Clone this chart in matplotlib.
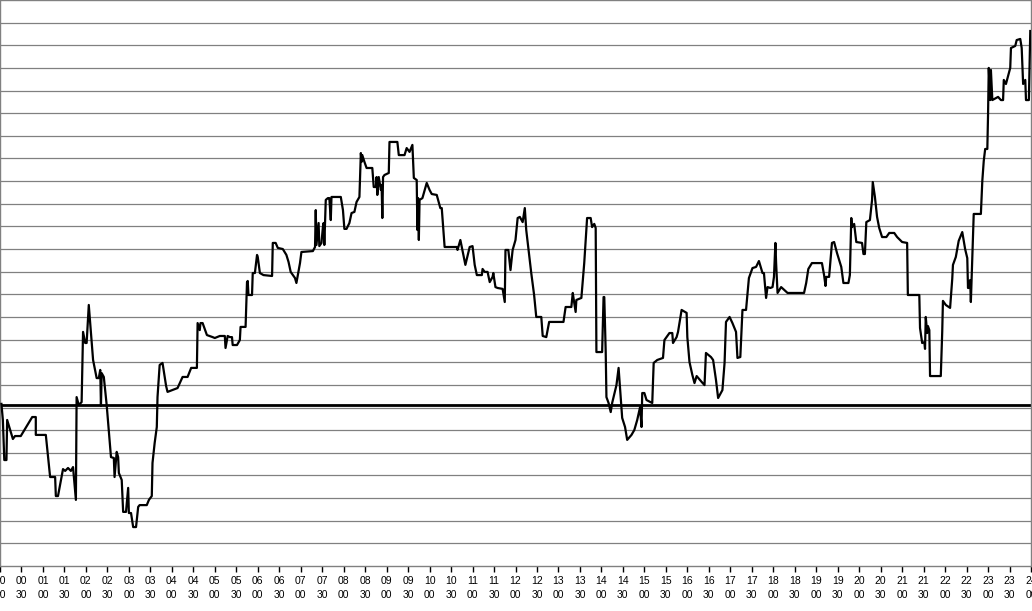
import matplotlib
matplotlib.use('Agg')
import matplotlib.pyplot as plt

# time of day in minutes, value in grid units (no y labels on the chart)
minutes = [
    2, 4, 6, 9, 10, 18, 21, 29, 45, 50, 50, 64, 70, 77, 78, 81, 88, 91, 95, 99,
    102, 106, 107, 110, 114, 116, 119, 121, 124, 127, 130, 135, 138, 140, 141, 142, 145, 149, 155, 159,
    160, 163, 165, 166, 170, 172, 176, 179, 180, 183, 186, 190, 193, 195, 205, 208, 212, 213, 216, 219,
    220, 223, 227, 232, 234, 248, 255, 262, 267, 275, 276, 279, 280, 283, 289, 297, 300, 307, 314, 315,
    318, 321, 324, 325, 331, 335, 336, 343, 345, 346, 347, 352, 353, 356, 359, 360, 363, 368, 380, 381,
    385, 388, 395, 400, 403, 406, 412, 414, 419, 421, 437, 440, 441, 442, 445, 446, 449, 451, 452, 453,
    455, 458, 460, 462, 463, 476, 479, 481, 484, 488, 491, 495, 498, 502, 504, 505, 506, 509, 512, 520,
    522, 525, 526, 527, 529, 532, 533, 534, 535, 537, 543, 544, 555, 557, 565, 568, 572, 576, 578, 582,
    583, 584, 585, 586, 590, 596, 600, 603, 610, 615, 617, 621, 638, 639, 643, 650, 656, 660, 663, 666,
    673, 674, 677, 681, 684, 688, 689, 692, 695, 702, 705, 706, 710, 713, 716, 720, 723, 726, 730, 733,
    735, 742, 746, 749, 756, 758, 763, 767, 787, 790, 798, 800, 801, 804, 805, 812, 816, 820, 825, 827,
    830, 832, 833, 841, 843, 844, 846, 847, 850, 853, 855, 861, 864, 869, 873, 876, 882, 886, 890, 894,
    896, 897, 900, 903, 911, 913, 918, 926, 928, 935, 939, 940, 945, 947, 952, 959, 960, 963, 967, 970,
    973, 980, 984, 986, 993, 996, 1000, 1003, 1009, 1012, 1014, 1019, 1023, 1028, 1030, 1034, 1037, 1042, 1046, 1051,
    1056, 1060, 1065, 1067, 1070, 1072, 1076, 1079, 1081, 1083, 1084, 1086, 1091, 1097, 1100, 1123, 1126, 1129, 1134, 1148,
    1151, 1153, 1154, 1158, 1162, 1165, 1169, 1175, 1178, 1185, 1187, 1189, 1190, 1193, 1196, 1204, 1206, 1208, 1210, 1215,
    1218, 1219, 1222, 1225, 1228, 1232, 1238, 1242, 1249, 1253, 1260, 1267, 1268, 1284, 1285, 1288, 1291, 1292, 1293, 1295,
    1296, 1298, 1299, 1314, 1316, 1317, 1321, 1327, 1330, 1331, 1335, 1339, 1344, 1348, 1351, 1352, 1353, 1355, 1356, 1358,
    1360, 1370, 1372, 1374, 1376, 1379, 1380, 1381, 1383, 1384, 1386, 1391, 1394, 1398, 1401, 1402, 1405, 1411, 1412, 1418,
    1420, 1425, 1427, 1429, 1432, 1433, 1437, 1439,
]
values = [
    7.16, 6.45, 4.68, 4.68, 6.45, 5.61, 5.74, 5.74, 6.58, 6.58, 5.79, 5.79, 3.93, 3.93, 3.09, 3.09, 4.28, 4.20, 4.33, 4.20,
    4.37, 2.92, 7.46, 7.11, 7.24, 10.34, 9.85, 9.85, 11.53, 10.29, 9.10, 8.30, 8.30, 8.66, 7.07, 8.52, 8.35, 7.11, 4.81, 4.77,
    3.93, 5.04, 4.81, 4.11, 3.80, 2.39, 2.39, 3.45, 2.34, 2.34, 1.72, 1.72, 2.61, 2.69, 2.69, 2.92, 3.09, 4.55, 5.43, 6.14,
    7.46, 8.88, 8.97, 7.95, 7.69, 7.86, 8.35, 8.35, 8.75, 8.75, 10.73, 10.42, 10.73, 10.73, 10.20, 10.11, 10.07, 10.16, 10.16, 9.63,
    10.16, 10.11, 10.11, 9.76, 9.76, 9.98, 10.56, 10.56, 12.54, 12.59, 11.97, 11.97, 12.94, 12.94, 13.74, 13.65, 12.94, 12.85, 12.81, 14.27,
    14.27, 14.05, 14.00, 13.74, 13.43, 12.99, 12.72, 12.50, 13.38, 13.87, 13.91, 14.09, 15.72, 14.18, 15.15, 14.13, 14.27, 14.97, 15.15, 14.18,
    16.17, 16.25, 16.25, 15.28, 16.30, 16.30, 15.72, 14.89, 14.89, 15.15, 15.59, 15.64, 16.08, 16.30, 18.24, 17.85, 18.15, 17.85, 17.58, 17.58,
    16.74, 16.74, 17.18, 16.39, 17.18, 16.61, 16.83, 15.37, 17.18, 17.27, 17.36, 18.73, 18.73, 18.15, 18.15, 18.46, 18.29, 18.60, 17.14, 17.05,
    14.84, 16.25, 14.40, 16.17, 16.25, 16.92, 16.61, 16.43, 16.39, 15.81, 15.81, 14.09, 14.09, 13.96, 14.40, 13.30, 14.09, 14.13, 13.30, 12.85,
    12.85, 13.12, 12.99, 12.99, 12.54, 12.77, 12.94, 12.32, 12.28, 12.24, 11.66, 13.96, 13.96, 13.07, 13.96, 14.40, 15.37, 15.42, 15.19, 15.81,
    14.84, 12.94, 11.97, 11.00, 11.00, 10.16, 10.11, 10.78, 10.78, 11.44, 11.44, 12.06, 11.84, 11.22, 11.75, 11.84, 13.38, 15.37, 15.37, 14.97,
    15.11, 14.93, 9.45, 9.45, 11.88, 11.88, 9.45, 7.46, 7.20, 6.80, 7.20, 7.99, 8.75, 6.54, 6.14, 5.57, 5.79, 6.01, 6.45, 7.02,
    6.14, 7.64, 7.64, 7.33, 7.20, 8.97, 9.10, 9.19, 9.98, 10.29, 10.29, 9.85, 10.11, 10.34, 11.31, 11.18, 10.11, 9.01, 8.44, 8.08,
    8.39, 8.13, 7.99, 9.41, 9.23, 9.10, 8.22, 7.42, 7.77, 8.97, 10.78, 11.00, 10.73, 10.34, 9.19, 9.23, 11.31, 11.31, 12.72, 13.16,
    13.21, 13.47, 12.94, 12.94, 11.84, 12.32, 12.28, 12.32, 12.77, 14.27, 13.38, 12.06, 12.32, 12.15, 12.06, 12.06, 12.50, 13.12, 13.38, 13.38,
    12.85, 12.37, 12.77, 12.77, 14.27, 14.31, 13.83, 13.21, 12.50, 12.50, 12.85, 15.37, 14.97, 15.11, 14.31, 14.27, 13.78, 13.78, 15.19, 15.28,
    16.17, 16.96, 16.30, 15.42, 14.93, 14.53, 14.53, 14.71, 14.71, 14.53, 14.31, 14.27, 11.97, 11.97, 10.51, 9.85, 9.89, 9.59, 11.00, 10.29,
    10.60, 10.42, 8.39, 8.39, 10.34, 11.71, 11.53, 11.40, 12.68, 13.30, 13.65, 14.36, 14.75, 14.00, 13.60, 12.28, 12.28, 12.63, 11.66, 13.60,
    15.55, 15.55, 17.01, 17.89, 18.42, 18.42, 19.92, 22.00, 20.58, 21.91, 20.58, 20.67, 20.72, 20.58, 20.58, 21.47, 21.29, 22.00, 22.88, 22.97,
    23.23, 23.28, 22.88, 21.29, 21.47, 20.58, 20.58, 23.63,
]
reference_level = 7.11

tick_minutes = list(range(0, 1441, 30))
tick_labels = ['%02d\n%02d' % (m // 60, m % 60) for m in tick_minutes]

fig = plt.figure(figsize=(10.32, 6.11), dpi=100)
ax = fig.add_axes([0.0, 45 / 611, 1031 / 1032, 566 / 611])

ax.plot(minutes, values, color='black', linewidth=1.6, zorder=3)
ax.axhline(reference_level, color='black', linewidth=2.0, zorder=2)

ax.set_xlim(0, 1440)
ax.set_ylim(0, 25)

# horizontal grid only
ax.set_yticks(range(1, 25))
ax.yaxis.grid(True, color='#808080', linewidth=0.9)
ax.tick_params(axis='y', length=0, labelleft=False)

ax.set_xticks(tick_minutes)
ax.set_xticklabels(tick_labels, fontsize=7.5, family=['Liberation Sans', 'DejaVu Sans'],
                   linespacing=1.4)
ax.tick_params(axis='x', direction='out', length=4, width=1, color='black', pad=3.5)

for side in ['left', 'right', 'top', 'bottom']:
    ax.spines[side].set_color('#808080')
    ax.spines[side].set_linewidth(1.0)

plt.savefig('out.png', dpi=100)
